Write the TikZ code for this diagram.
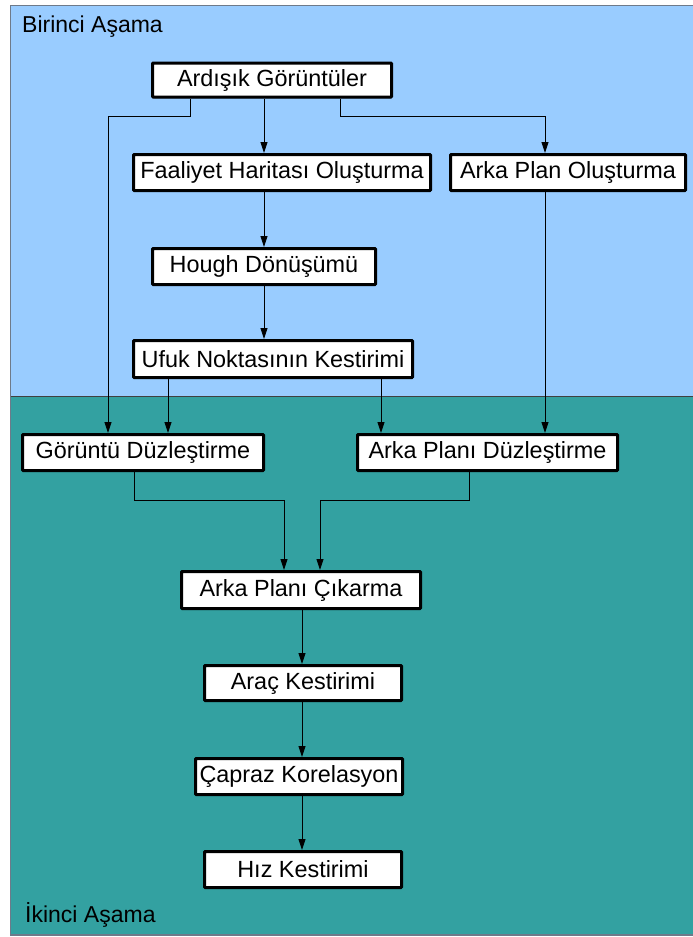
\documentclass[tikz,border=0pt]{standalone}
\usepackage{fontspec}
\setmainfont{Liberation Sans}
\usetikzlibrary{arrows.meta,shadows}
\definecolor{topblue}{RGB}{153,204,255}
\definecolor{teal2}{RGB}{51,161,161}
\definecolor{framegray}{RGB}{110,122,138}
\begin{document}
\begin{tikzpicture}[x=1pt,y=-1pt,
  box/.style={draw=black,fill=white,line width=3pt,inner sep=0pt,rounded corners=0.8pt,
    minimum height=36pt,font=\fontsize{23.4}{28}\selectfont,
    drop shadow={shadow xshift=1pt,shadow yshift=-1pt,fill=black,opacity=1}},
  conn/.style={draw=black,line width=0.9pt},
  arr/.style={conn,-{Triangle[length=11pt,width=7pt]}},
  stagelabel/.style={anchor=base west,inner sep=0pt,font=\fontsize{23}{27}\selectfont}]
\useasboundingbox (0,0) rectangle (693,937);
\fill[white] (0,0) rectangle (693,937);
\fill[topblue] (10,5) rectangle (693,396.5);
\fill[teal2] (10,396.5) rectangle (693,935);
\draw[framegray,line width=1.5pt] (693,5.5) -- (10.5,5.5) -- (10.5,935) -- (693,935);
\draw[black!75,line width=0.8pt] (10.5,396.5) -- (693,396.5);
\node[stagelabel] (lab1) at (22,32) {Birinci Aşama};
\node[stagelabel] (lab2) at (25,922) {İkinci Aşama};
% boxes
\node[box,minimum width=239pt,minimum height=34pt] (ard) at (272,80) {Ardışık Görüntüler};
\node[box,minimum width=297pt] (fa) at (282,172.5) {Faaliyet Haritası Oluşturma};
\node[box,minimum width=235pt] (apo) at (568,172.5) {Arka Plan Oluşturma};
\node[box,minimum width=223pt] (hough) at (264,266.5) {Hough Dönüşümü};
\node[box,minimum width=279pt,minimum height=37pt] (ufuk) at (273,359) {Ufuk Noktasının Kestirimi};
\node[box,minimum width=241pt] (gd) at (143,452.5) {Görüntü Düzleştirme};
\node[box,minimum width=260pt] (apd) at (487.5,452.5) {Arka Planı Düzleştirme};
\node[box,minimum width=239pt,minimum height=37pt] (cik) at (301,590) {Arka Planı Çıkarma};
\node[box,minimum width=197pt,minimum height=35pt] (arac) at (303,683) {Araç Kestirimi};
\node[box,minimum width=207pt] (capraz) at (299,776.5) {Çapraz Korelasyon};
\node[box,minimum width=197pt] (hiz) at (303,869.5) {Hız Kestirimi};
% connectors
\coordinate (jl) at (190,116.5);
\coordinate (jr) at (340,116.5);
\draw[arr] (190,0 |- ard.south) -- (jl) -- (108,116.5) -- (108,0 |- gd.north);
\draw[arr] (264,0 |- ard.south) -- (264,0 |- fa.north);
\draw[arr] (340,0 |- ard.south) -- (jr) -- (545,116.5) -- (545,0 |- apo.north);
\draw[arr] (264,0 |- fa.south) -- (264,0 |- hough.north);
\draw[arr] (264,0 |- hough.south) -- (264,0 |- ufuk.north);
\draw[arr] (168,0 |- ufuk.south) -- (168,0 |- gd.north);
\draw[arr] (381,0 |- ufuk.south) -- (381,0 |- apd.north);
\draw[arr] (545,0 |- apo.south) -- (545,0 |- apd.north);
\coordinate (jgl) at (134,500.5);
\coordinate (jgr) at (469,500.5);
\draw[arr] (134,0 |- gd.south) -- (jgl) -- (284,500.5) -- (284,0 |- cik.north);
\draw[arr] (469,0 |- apd.south) -- (jgr) -- (320,500.5) -- (320,0 |- cik.north);
\draw[arr] (302,0 |- cik.south) -- (302,0 |- arac.north);
\draw[arr] (302,0 |- arac.south) -- (302,0 |- capraz.north);
\draw[arr] (302,0 |- capraz.south) -- (302,0 |- hiz.north);
\end{tikzpicture}
\end{document}
